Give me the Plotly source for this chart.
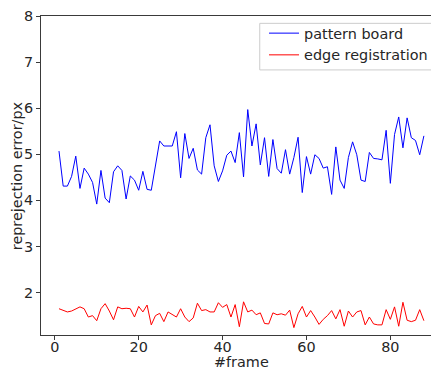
import plotly.graph_objects as go

frames = list(range(1, 89))

pattern_board = [
    5.07, 4.31, 4.31, 4.52, 4.96, 4.26, 4.70, 4.57, 4.39, 3.92,
    4.65, 4.05, 3.95, 4.62, 4.75, 4.65, 4.03, 4.53, 4.44, 4.22,
    4.63, 4.24, 4.22, 4.75, 5.29, 5.18, 5.18, 5.18, 5.49, 4.49,
    5.45, 4.91, 5.13, 4.66, 4.57, 5.36, 5.64, 4.75, 4.41, 4.64,
    4.98, 5.07, 4.82, 5.47, 4.51, 5.97, 5.18, 5.66, 4.77, 5.36,
    4.52, 5.32, 4.69, 4.59, 5.10, 4.57, 4.93, 5.37, 4.17, 4.95,
    4.57, 4.99, 4.91, 4.70, 4.73, 4.13, 5.16, 4.44, 4.26, 4.93,
    5.27, 4.99, 4.44, 4.41, 5.04, 4.91, 4.90, 4.88, 5.52, 4.37,
    5.43, 5.81, 5.14, 5.79, 5.36, 5.30, 4.99, 5.40,
]

edge_registration = [
    1.65, 1.61, 1.58, 1.60, 1.65, 1.69, 1.65, 1.47, 1.50, 1.39,
    1.65, 1.76, 1.60, 1.41, 1.69, 1.65, 1.66, 1.65, 1.47, 1.70,
    1.58, 1.73, 1.30, 1.50, 1.55, 1.37, 1.58, 1.52, 1.47, 1.65,
    1.47, 1.37, 1.45, 1.77, 1.61, 1.63, 1.58, 1.58, 1.78, 1.68,
    1.74, 1.47, 1.74, 1.26, 1.80, 1.58, 1.62, 1.52, 1.56, 1.33,
    1.32, 1.56, 1.52, 1.54, 1.51, 1.62, 1.24, 1.54, 1.70, 1.47,
    1.61, 1.47, 1.31, 1.42, 1.50, 1.61, 1.43, 1.63, 1.27, 1.60,
    1.47, 1.58, 1.61, 1.30, 1.47, 1.32, 1.30, 1.30, 1.63, 1.42,
    1.69, 1.27, 1.79, 1.40, 1.37, 1.40, 1.63, 1.39,
]

x_ticks = [0, 20, 40, 60, 80]
y_ticks = [2, 3, 4, 5, 6, 7, 8]
x_title = "#frame"
y_title = "reprejection error/px"

FONT = "DejaVu Sans"
TXT = "#262626"
SPINE = "#3a3a3a"
FS = 14.4

fig = go.Figure()
fig.add_trace(go.Scatter(x=frames, y=pattern_board, mode="lines",
                         name="pattern board",
                         line=dict(color="#0000ff", width=1)))
fig.add_trace(go.Scatter(x=frames, y=edge_registration, mode="lines",
                         name="edge registration",
                         line=dict(color="#ff0000", width=1)))

# page body has an 8px margin, so the figure is sized to fit the window
fig.update_layout(
    width=431, height=361,
    margin=dict(l=32.5, r=0, t=8, b=33.5, pad=0),
    paper_bgcolor="white", plot_bgcolor="white",
    font=dict(family=FONT, size=FS, color=TXT),
    showlegend=True,
    legend=dict(x=0.985, y=0.996, xanchor="right", yanchor="top",
                bgcolor="rgba(0,0,0,0)", borderwidth=0,
                font=dict(family=FONT, size=FS, color=TXT),
                itemwidth=30, tracegroupgap=0),
)
# legend frame (behind the legend entries, above the lines)
fig.add_shape(type="rect", xref="paper", yref="paper",
              x0=0.5496, x1=0.985, y0=0.831, y1=0.977,
              line=dict(color="#cccccc", width=1),
              fillcolor="rgba(255,255,255,0.8)", layer="above")
fig.update_xaxes(
    range=[-3.29, 91.6], tickvals=x_ticks, ticktext=[str(v) for v in x_ticks],
    automargin=False, ticklabelstandoff=-5,
    showgrid=False, zeroline=False, showline=True, linecolor=SPINE, linewidth=1,
    mirror=True, ticks="outside", ticklen=4, tickcolor=SPINE,
    tickfont=dict(family=FONT, size=FS, color=TXT),
)
fig.update_yaxes(
    range=[1.08, 8.0], tickvals=y_ticks, ticktext=[str(v) for v in y_ticks],
    automargin=False,
    showgrid=False, zeroline=False, showline=True, linecolor=SPINE, linewidth=1,
    mirror=False, ticks="outside", ticklen=4, tickcolor=SPINE,
    tickfont=dict(family=FONT, size=FS, color=TXT),
)
fig.add_annotation(text=x_title, xref="paper", yref="paper", x=0.504, y=-0.085,
                   xanchor="center", yanchor="middle", showarrow=False,
                   font=dict(family=FONT, size=FS, color=TXT))
fig.add_annotation(text=y_title, xref="paper", yref="paper", x=-0.061, y=0.5,
                   xanchor="center", yanchor="middle", showarrow=False, textangle=-90,
                   font=dict(family=FONT, size=FS, color=TXT))

fig.write_html("out.html")
